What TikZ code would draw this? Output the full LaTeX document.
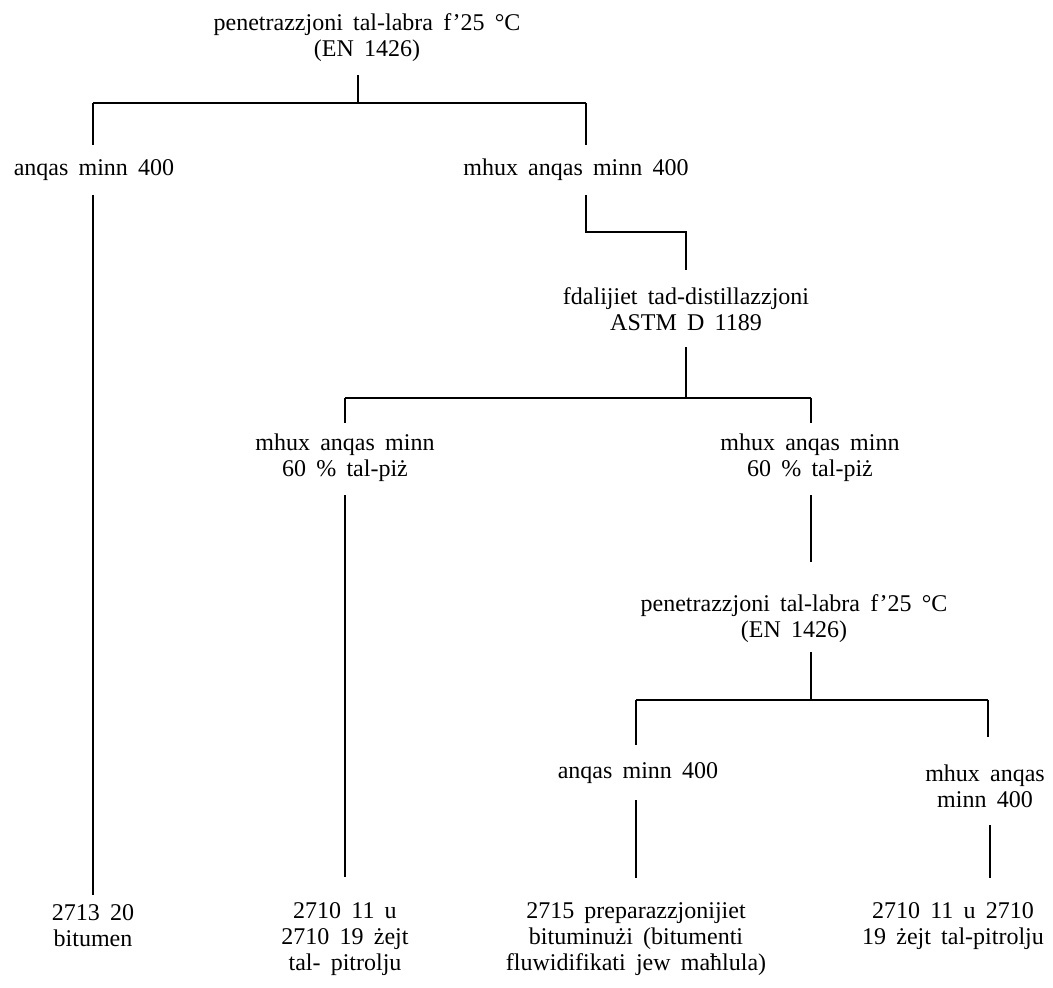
\documentclass[tikz,border=0pt]{standalone}
\usepackage{fontspec}
\setmainfont{Liberation Serif}[WordSpace=1.7]
\begin{document}
\begin{tikzpicture}[x=0.75pt,y=-0.75pt,
  lbl/.style={align=center,inner sep=0pt,font=\fontsize{18}{19.5}\selectfont},
  ln/.style={line width=1.3pt}]
\useasboundingbox (0,0) rectangle (1053,988);
% texts
\node[lbl] (t0) at (367,38) {penetrazzjoni tal-labra f'25 °C\\(EN 1426)};
\node[lbl] (a1) at (94,170) {anqas minn 400};
\node[lbl] (a2) at (576,170) {mhux anqas minn 400};
\node[lbl] (d) at (686,309) {fdalijiet tad-distillazzjoni\\ASTM D 1189};
\node[lbl] (m1) at (345,458) {mhux anqas minn\\60 \% tal-piż};
\node[lbl] (m2) at (810,458) {mhux anqas minn\\60 \% tal-piż};
\node[lbl] (p2) at (794,619) {penetrazzjoni tal-labra f'25 °C\\(EN 1426)};
\node[lbl] (b1) at (638,773) {anqas minn 400};
\node[lbl] (b2) at (985,786) {mhux anqas\\minn 400};
\node[lbl] (r1) at (93,926) {2713 20\\bitumen};
\node[lbl] (r2) at (345,939) {2710 11 u\\2710 19 żejt\\tal- pitrolju};
\node[lbl] (r3) at (636,939) {2715 preparazzjonijiet\\bituminużi (bitumenti\\fluwidifikati jew maħlula)};
\node[lbl] (r4) at (953,926) {2710 11 u 2710\\19 żejt tal-pitrolju};
% coordinates
\coordinate (j0) at (358,103);
\coordinate (j0l) at (93,103);
\coordinate (j0r) at (586,103);
\coordinate (j1) at (586,232);
\coordinate (j1r) at (686,232);
\coordinate (j2) at (686,398);
\coordinate (j2l) at (345,398);
\coordinate (j2r) at (811,398);
\coordinate (j3) at (811,700);
\coordinate (j3l) at (636,700);
\coordinate (j3r) at (988,700);
% connectors
\draw[ln] (358,75) -- (j0);
\draw[ln] (j0l) -- (j0r);
\draw[ln] (j0l) -- (93,145);
\draw[ln] (j0r) -- (586,145);
\draw[ln] (93,195) -- (93,895);
\draw[ln] (586,195) -- (j1) -- (j1r) -- (686,270);
\draw[ln] (686,347) -- (j2);
\draw[ln] (j2l) -- (j2r);
\draw[ln] (j2l) -- (345,423);
\draw[ln] (j2r) -- (811,423);
\draw[ln] (345,495) -- (345,877);
\draw[ln] (811,495) -- (811,562);
\draw[ln] (811,652) -- (j3);
\draw[ln] (j3l) -- (j3r);
\draw[ln] (j3l) -- (636,745);
\draw[ln] (j3r) -- (988,737);
\draw[ln] (636,800) -- (636,878);
\draw[ln] (990,825) -- (990,878);
\end{tikzpicture}
\end{document}
